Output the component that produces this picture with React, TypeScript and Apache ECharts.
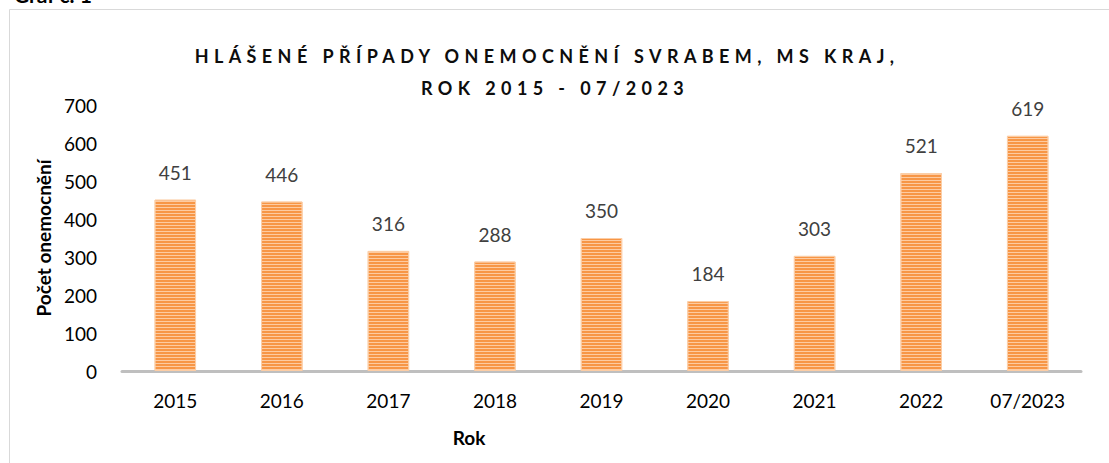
import React, { useEffect, useRef } from "react";
import * as echarts from "echarts";

const categories = ["2015", "2016", "2017", "2018", "2019", "2020", "2021", "2022", "07/2023"];
const cases = [451, 446, 316, 288, 350, 184, 303, 521, 619];
const yTicks = { min: 0, max: 700, interval: 100 };
const titleLines = ["HLÁŠENÉ PŘÍPADY ONEMOCNĚNÍ SVRABEM, MS KRAJ,", "ROK 2015 - 07/2023"];
const yAxisTitle = "Počet onemocnění";
const xAxisTitle = "Rok";
const captionText = "Graf č. 1";

const FONT = "Lato, sans-serif";
const TITLE_FONT = "Lato, Carlito, sans-serif";

export default function App() {
  const ref = useRef<HTMLDivElement>(null);
  useEffect(() => {
    const el = ref.current!;
    const chart = echarts.init(el, undefined, { renderer: "svg" });
    chart.setOption({
      animation: false,
      backgroundColor: "#ffffff",
      grid: { left: 122, right: 28, top: 105, bottom: 92, containLabel: false },
      xAxis: {
        type: "category",
        data: categories,
        axisLine: { lineStyle: { color: "#BFBFBF", width: 3 } },
        axisTick: { show: false },
        axisLabel: { color: "#000000", fontFamily: FONT, fontSize: 19, margin: 20 },
      },
      yAxis: {
        type: "value",
        min: yTicks.min,
        max: yTicks.max,
        interval: yTicks.interval,
        axisLine: { show: false },
        axisTick: { show: false },
        splitLine: { show: false },
        axisLabel: { color: "#000000", fontFamily: FONT, fontSize: 19, margin: 25 },
        name: yAxisTitle,
        nameLocation: "middle",
        nameGap: 65,
        nameRotate: 90,
        nameTextStyle: { color: "#000000", fontFamily: FONT, fontSize: 19, fontWeight: "bold" },
      },
      graphic: [
        {
          type: "rect",
          shape: { x: 9.5, y: 9.5, width: 1200, height: 600 },
          style: { fill: "none", stroke: "#D9D9D9", lineWidth: 1 },
          silent: true,
        },
        {
          type: "text",
          x: 14,
          y: -6,
          style: { text: captionText, fontFamily: FONT, fontSize: 21, fontWeight: "bold", fill: "#000", verticalAlign: "middle" },
        },
        {
          type: "text",
          x: 547,
          y: 56,
          style: { text: titleLines[0], fontFamily: TITLE_FONT, fontSize: 18, fontWeight: "bold", fill: "#0D0D0D", align: "center", verticalAlign: "middle" },
        },
        {
          type: "text",
          x: 555,
          y: 88,
          style: { text: titleLines[1], fontFamily: TITLE_FONT, fontSize: 18, fontWeight: "bold", fill: "#0D0D0D", align: "center", verticalAlign: "middle" },
        },
        {
          type: "text",
          x: 469,
          y: 437,
          style: { text: xAxisTitle, fontFamily: FONT, fontSize: 19, fontWeight: "bold", fill: "#000", align: "center", verticalAlign: "middle" },
        },
      ],
      series: [
        {
          type: "bar",
          data: cases,
          barWidth: "39%",
          itemStyle: {
            color: "#F79646",
            borderColor: "rgba(252,205,165,0.9)",
            borderWidth: 1,
            decal: {
              symbol: "rect",
              symbolSize: 1,
              dashArrayX: [1, 0],
              dashArrayY: [1, 2],
              color: "rgba(255,225,200,0.7)",
              rotation: 0,
            },
          },
          label: {
            show: true,
            position: "top",
            distance: 18,
            color: "#404040",
            fontFamily: FONT,
            fontSize: 19,
          },
        },
      ],
    });
    return () => chart.dispose();
  }, []);
  return (
    <>
      <style>{`body{margin:0} text[style*="Carlito"]{letter-spacing:5.4px}`}</style>
      <div ref={ref} style={{ position: "fixed", left: 0, top: 0, width: 1109, height: 463 }} />
    </>
  );
}
